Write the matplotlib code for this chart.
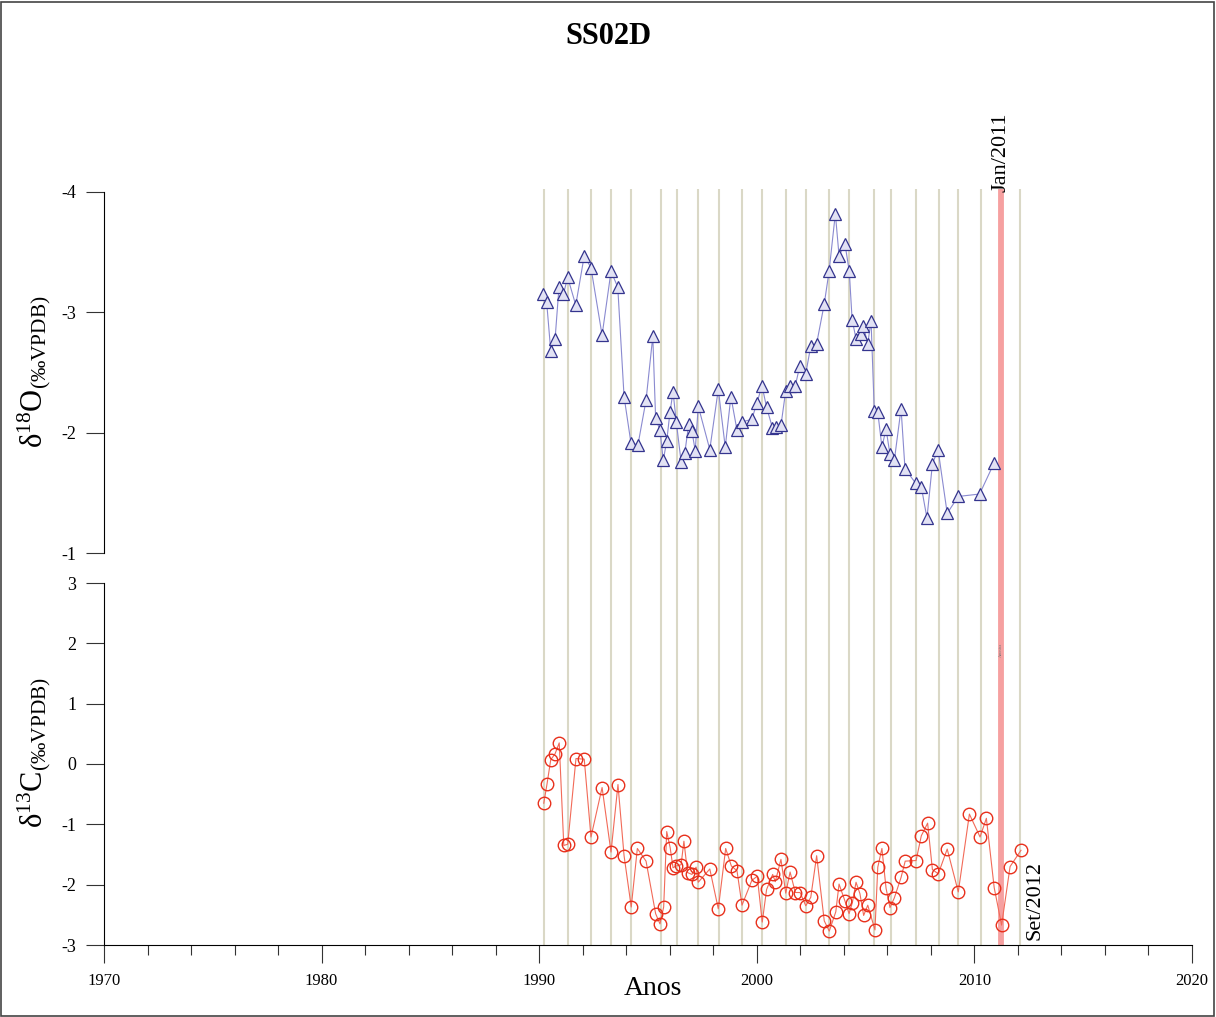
import matplotlib
matplotlib.use("Agg")
import matplotlib.pyplot as plt
from matplotlib.patches import Rectangle
from matplotlib.ticker import MultipleLocator

plt.rcParams['font.family'] = ['Liberation Serif', 'DejaVu Serif']
plt.rcParams['mathtext.fontset'] = 'custom'
plt.rcParams['mathtext.rm'] = 'Liberation Serif'
plt.rcParams['mathtext.it'] = 'Liberation Serif:italic'
plt.rcParams['axes.unicode_minus'] = False

# delta 18O (triangulos)
anos_o18 = [1990.19, 1990.34, 1990.53, 1990.73, 1990.91, 1991.11, 1991.31, 1991.68,
            1992.07, 1992.38, 1992.89, 1993.30, 1993.61, 1993.90, 1994.22, 1994.54,
            1994.91, 1995.22, 1995.35, 1995.55, 1995.70, 1995.86, 1996.01, 1996.15,
            1996.30, 1996.52, 1996.69, 1996.87, 1997.02, 1997.17, 1997.31, 1997.84,
            1998.23, 1998.55, 1998.81, 1999.09, 1999.32, 1999.77, 2000.01, 2000.24,
            2000.45, 2000.72, 2000.88, 2001.11, 2001.33, 2001.53, 2001.77, 2001.97,
            2002.25, 2002.48, 2002.75, 2003.10, 2003.32, 2003.61, 2003.78, 2004.05,
            2004.25, 2004.38, 2004.56, 2004.77, 2004.89, 2005.10, 2005.25, 2005.40,
            2005.56, 2005.75, 2005.94, 2006.12, 2006.32, 2006.63, 2006.81, 2007.30,
            2007.56, 2007.82, 2008.07, 2008.33, 2008.75, 2009.26, 2010.24, 2010.91]
d18o = [-3.15, -3.09, -2.68, -2.78, -3.21, -3.15, -3.29, -3.06,
        -3.47, -3.37, -2.81, -3.34, -3.21, -2.30, -1.91, -1.90,
        -2.27, -2.80, -2.12, -2.02, -1.77, -1.93, -2.17, -2.34,
        -2.09, -1.76, -1.83, -2.07, -2.01, -1.85, -2.22, -1.86,
        -2.36, -1.88, -2.30, -2.02, -2.09, -2.11, -2.25, -2.39,
        -2.21, -2.04, -2.05, -2.06, -2.35, -2.39, -2.39, -2.55,
        -2.49, -2.72, -2.74, -3.07, -3.34, -3.82, -3.47, -3.57,
        -3.34, -2.94, -2.78, -2.82, -2.89, -2.74, -2.93, -2.18,
        -2.17, -1.88, -2.03, -1.82, -1.77, -2.20, -1.70, -1.58,
        -1.55, -1.29, -1.74, -1.86, -1.33, -1.47, -1.49, -1.75]

# delta 13C (circulos)
anos_c13 = [1990.21, 1990.36, 1990.53, 1990.73, 1990.92, 1991.13, 1991.31, 1991.69,
            1992.07, 1992.38, 1992.89, 1993.30, 1993.62, 1993.90, 1994.23, 1994.51,
            1994.91, 1995.35, 1995.55, 1995.72, 1995.86, 1996.02, 1996.15, 1996.29,
            1996.52, 1996.65, 1996.82, 1997.02, 1997.21, 1997.31, 1997.84, 1998.23,
            1998.57, 1998.83, 1999.09, 1999.32, 1999.77, 2000.02, 2000.25, 2000.45,
            2000.73, 2000.85, 2001.11, 2001.33, 2001.53, 2001.77, 2001.99, 2002.25,
            2002.48, 2002.75, 2003.10, 2003.33, 2003.63, 2003.78, 2004.05, 2004.24,
            2004.39, 2004.56, 2004.74, 2004.91, 2005.10, 2005.43, 2005.56, 2005.75,
            2005.94, 2006.12, 2006.32, 2006.63, 2006.82, 2007.32, 2007.56, 2007.85,
            2008.07, 2008.34, 2008.75, 2009.26, 2009.77, 2010.26, 2010.55, 2010.91,
            2011.25, 2011.64, 2012.14]
d13c = [-0.65, -0.33, 0.07, 0.17, 0.35, -1.35, -1.33, 0.09,
        0.08, -1.21, -0.39, -1.46, -0.34, -1.52, -2.37, -1.40,
        -1.61, -2.48, -2.65, -2.37, -1.12, -1.39, -1.72, -1.69,
        -1.67, -1.28, -1.80, -1.83, -1.71, -1.96, -1.74, -2.40,
        -1.40, -1.69, -1.77, -2.34, -1.93, -1.86, -2.62, -2.08,
        -1.83, -1.95, -1.58, -2.14, -1.79, -2.13, -2.13, -2.35,
        -2.21, -1.52, -2.60, -2.77, -2.45, -1.99, -2.27, -2.48,
        -2.30, -1.96, -2.15, -2.51, -2.34, -2.75, -1.71, -1.40,
        -2.06, -2.38, -2.22, -1.88, -1.61, -1.60, -1.19, -0.98,
        -1.75, -1.82, -1.41, -2.12, -0.83, -1.21, -0.90, -2.05,
        -2.67, -1.70, -1.43]

# linhas verticais (bandas anuais)
linhas_anuais = [1990.23, 1991.32, 1992.39, 1993.29, 1994.21, 1995.58, 1996.32,
                 1997.31, 1998.25, 1999.33, 2000.25, 2001.34, 2002.26, 2003.32,
                 2004.25, 2005.40, 2006.15, 2007.32, 2008.36, 2009.26, 2010.29,
                 2012.10]
ano_jan2011 = 2011.21
ano_set2012 = 2012.10

W, H = 1216, 1017
fig = plt.figure(figsize=(W / 100, H / 100), dpi=100)

def fx(px):
    return px / W

def fy(py):
    return 1 - py / H

x0, x1 = 104, 1192
# fundo para as linhas verticais
ax_bg = fig.add_axes([fx(x0), fy(945), fx(x1 - x0), (945 - 189) / H])
ax_bg.set_xlim(1970, 2020)
ax_bg.set_ylim(0, 1)
ax_bg.axis('off')
for a in linhas_anuais:
    ax_bg.axvline(a, color='#dad8c6', lw=1.5, zorder=1)
ax_bg.axvline(ano_jan2011, color='#f6a0a0', lw=4.2, zorder=2)

ax_o = fig.add_axes([fx(x0), fy(553), fx(x1 - x0), (553 - 192) / H], sharex=ax_bg)
ax_c = fig.add_axes([fx(x0), fy(945), fx(x1 - x0), (945 - 583) / H], sharex=ax_bg)
for ax in (ax_o, ax_c):
    ax.patch.set_alpha(0)
    ax.spines['top'].set_visible(False)
    ax.spines['right'].set_visible(False)
    ax.spines['left'].set_linewidth(0.8)
    ax.tick_params(axis='y', direction='out', length=13, width=0.8, pad=7,
                   labelsize=13, color='#333333')

ax_o.plot(anos_o18, d18o, color='#8a8ad0', lw=0.8, marker='^', ms=8,
          mec='#34348e', mfc='#e2e2f4', mew=0.9, zorder=5)
ax_o.set_ylim(-1, -4)
ax_o.set_yticks([-4, -3, -2, -1])
ax_o.spines['bottom'].set_visible(False)
ax_o.tick_params(axis='x', which='both', bottom=False, labelbottom=False)

ax_c.plot(anos_c13, d13c, color='#f26a58', lw=0.8, marker='o', ms=9,
          mec='#e8301c', mfc='none', mew=1.0, zorder=5)
ax_c.set_ylim(-3, 3)
ax_c.set_yticks([3, 2, 1, 0, -1, -2, -3])
ax_c.set_xlim(1970, 2020)
ax_c.xaxis.set_major_locator(MultipleLocator(10))
ax_c.xaxis.set_minor_locator(MultipleLocator(2))
ax_c.tick_params(axis='x', which='major', direction='out', length=13, width=0.8,
                 pad=7, labelsize=12, color='#333333')
ax_c.tick_params(axis='x', which='minor', direction='out', length=7, width=0.8,
                 color='#333333')
ax_c.spines['bottom'].set_linewidth(0.8)

ax_c.set_xlabel('Anos', fontsize=20)
ax_c.xaxis.set_label_coords((653 - x0) / (x1 - x0), -0.085)

ax_o.set_ylabel(r'δ$^{18}$O$_{\mathrm{(‰VPDB)}}$', fontsize=22)
ax_o.yaxis.set_label_coords(-0.047, (553 - 372) / (553 - 192))
ax_c.set_ylabel(r'δ$^{13}$C$_{\mathrm{(‰VPDB)}}$', fontsize=22)
ax_c.yaxis.set_label_coords(-0.047, (945 - 752) / (945 - 583))

ax_o.text(ano_jan2011, -4, 'Jan/2011', rotation=90, ha='center', va='bottom',
          fontsize=16)
ax_c.text(ano_set2012 + 0.25, -2.92, 'Set/2012', rotation=90, ha='left',
          va='bottom', fontsize=16)
ax_c.text(ano_jan2011, 1.9, 'Amostra', rotation=90, ha='center', va='center',
          fontsize=3, color='#777777')

fig.text(0.5, fy(37), 'SS02D', ha='center', va='center', fontsize=22,
         fontweight='bold')

fig.patches.append(Rectangle((0.001, 0.001), 0.997, 0.997, transform=fig.transFigure,
                             fill=False, edgecolor='#444444', lw=1.2))

fig.savefig('out.png', dpi=100)
